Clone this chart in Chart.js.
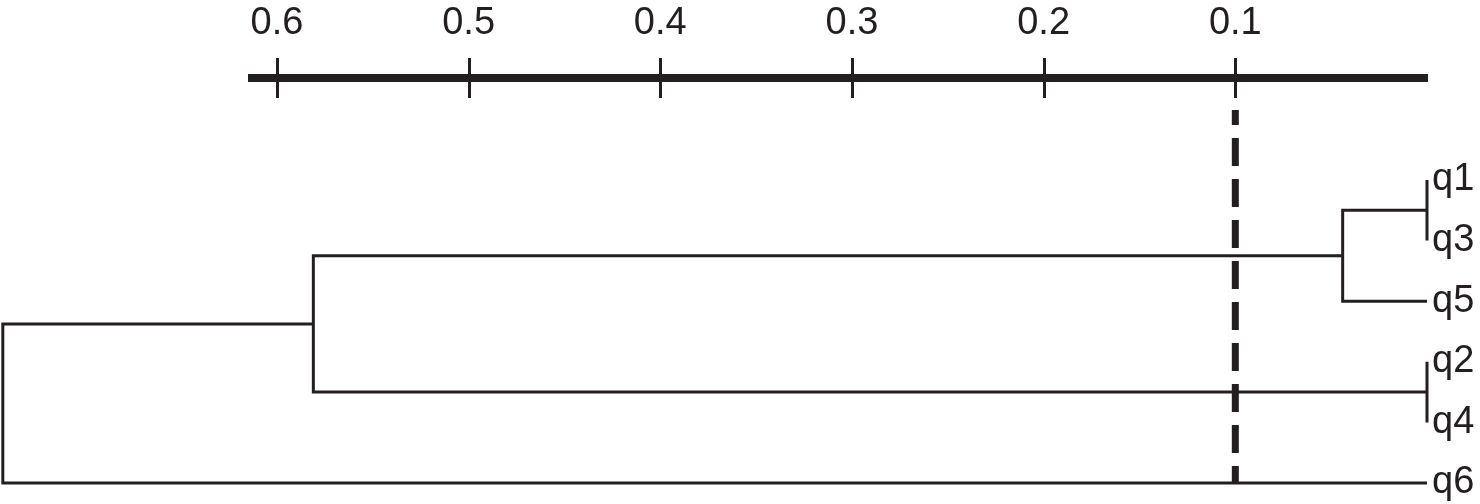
<!DOCTYPE html>
<html>
<head>
<meta charset="utf-8">
<script src="https://cdn.jsdelivr.net/npm/chart.js@4/dist/chart.umd.min.js"></script>
<style>
  html, body { margin: 0; padding: 0; background: #ffffff; }
  #wrap { width: 1480px; height: 504px; }
</style>
</head>
<body>
<div id="wrap"><canvas id="c" width="1480" height="504"></canvas></div>
<script>
// ---- data ----
const leafLabels = ['q1', 'q3', 'q5', 'q2', 'q4', 'q6'];      // leaf order top to bottom
const leafPositions = [1, 2, 3, 4, 5, 6];
// linkage: [left node, right node, merge height]; nodes 0..5 are leaves, 6.. are merges
const linkage = [
  [0, 1, 0.0],    // q1 + q3      -> node 6
  [3, 4, 0.0],    // q2 + q4      -> node 7
  [6, 2, 0.044],  // (q1,q3) + q5 -> node 8
  [8, 7, 0.581],  // node 8 + node 7 -> node 9
  [9, 5, 0.743]   // node 9 + q6  -> node 10
];
const tickValues = [0.6, 0.5, 0.4, 0.3, 0.2, 0.1];
const cutoff = 0.1;

// ---- build dendrogram segments from the linkage ----
const ink = '#231f20';
const nodes = leafPositions.map(p => ({ y: p, h: 0 }));
const segments = [];
linkage.forEach(([a, b, h]) => {
  const A = nodes[a], B = nodes[b];
  segments.push([
    { x: A.h, y: A.y }, { x: h, y: A.y }, { x: h, y: B.y }, { x: B.h, y: B.y }
  ]);
  nodes.push({ y: (A.y + B.y) / 2, h: h });
});

const datasets = segments.map(pts => ({
  data: pts,
  showLine: true,
  borderColor: ink,
  borderWidth: 3,
  pointRadius: 0,
  clip: false,
  borderJoinStyle: 'miter',
  tension: 0
}));
datasets.push({
  data: [{ x: cutoff, y: -0.155 }, { x: cutoff, y: 6 }],
  showLine: true,
  borderColor: ink,
  borderWidth: 7,
  borderDash: [28, 13],
  borderDashOffset: 13,
  pointRadius: 0,
  clip: false
});

const tickMarks = {
  id: 'tickMarks',
  afterDraw(chart) {
    const s = chart.scales.x, ctx = chart.ctx;
    ctx.save();
    ctx.strokeStyle = ink;
    ctx.lineWidth = 3;
    s.ticks.forEach(t => {
      const px = Math.round(s.getPixelForValue(t.value)) + 0.5;
      ctx.beginPath();
      ctx.moveTo(px, 58);
      ctx.lineTo(px, 98);
      ctx.stroke();
    });
    ctx.restore();
  }
};

new Chart(document.getElementById('c'), {
  type: 'scatter',
  data: { datasets },
  plugins: [tickMarks],
  options: {
    responsive: false,
    animation: false,
    layout: { padding: { left: 252, right: 0, top: 0, bottom: 9 } },
    plugins: { legend: { display: false }, tooltip: { enabled: false } },
    scales: {
      x: {
        type: 'linear',
        position: 'top',
        reverse: true,
        min: 0,
        max: 0.613,
        grid: { display: false, drawTicks: false },
        border: { display: true, width: 8, color: ink },
        afterBuildTicks: s => { s.ticks = tickValues.map(v => ({ value: v })); },
        afterFit: s => { s.height = 78; s.paddingLeft = 0; s.paddingRight = 0; },
        ticks: {
          autoSkip: false,
          maxRotation: 0,
          padding: 32,
          color: ink,
          font: { family: "'Liberation Sans', Arial, sans-serif", size: 38 },
          callback: v => Number(v).toFixed(1)
        }
      },
      y: {
        type: 'linear',
        position: 'right',
        reverse: true,
        min: -0.683,
        max: 6.198,
        grid: { display: false, drawTicks: false },
        border: { display: false },
        afterBuildTicks: s => { s.ticks = leafPositions.map(v => ({ value: v })); },
        afterFit: s => { s.width = 53; s.paddingTop = 0; s.paddingBottom = 0; },
        ticks: {
          autoSkip: false,
          padding: 5,
          color: ink,
          font: { family: "'Liberation Sans', Arial, sans-serif", size: 38 },
          callback: v => leafLabels[leafPositions.indexOf(v)]
        }
      }
    }
  }
});
</script>
</body>
</html>
